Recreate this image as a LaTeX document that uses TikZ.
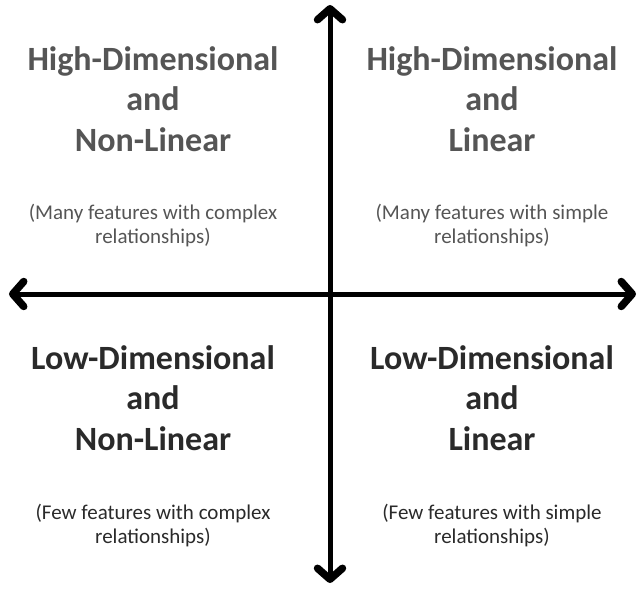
\documentclass[tikz,border=0pt]{standalone}
\usepackage{fontspec}
\setmainfont{Carlito}
\usepackage{tikz}
\usetikzlibrary{arrows.meta}
\definecolor{quadrantGray}{HTML}{555555}
\definecolor{quadrantInk}{HTML}{2A2A2A}
\definecolor{axisInk}{HTML}{000000}
\tikzset{
  heading/.style={
    align=center,
    inner sep=0pt,
    font=\fontsize{34}{40.5}\selectfont\bfseries
  },
  note/.style={
    align=center,
    inner sep=0pt,
    font=\fontsize{21}{24}\selectfont
  },
  axis/.style={
    {Straight Barb[length=11pt,width=25pt,line width=0pt 1.5,round]}-{Straight Barb[length=11pt,width=25pt,line width=0pt 1.5,round]},
    line width=5pt,
    draw=axisInk
  }
}

\begin{document}
\begin{tikzpicture}[x=1pt,y=-1pt]
  \useasboundingbox (0,0) rectangle (638,591);
  % axes
  \coordinate (north) at (330,5);
  \coordinate (south) at (330,583);
  \coordinate (west) at (9,294);
  \coordinate (east) at (636,294);
  \draw[axis] (west) -- (east);
  \draw[axis] (south) -- (north);
  % upper quadrants
  \node[heading,text=quadrantGray] (highNonLinear) at (153,99) {High-Dimensional\\and\\Non-Linear};
  \node[note,text=quadrantGray] (highNonLinearNote) at (153,226) {(Many features with complex\\relationships)};
  \node[heading,text=quadrantGray] (highLinear) at (492,99) {High-Dimensional\\and\\Linear};
  \node[note,text=quadrantGray] (highLinearNote) at (492,226) {(Many features with simple\\relationships)};
  % lower quadrants
  \node[heading,text=quadrantInk] (lowNonLinear) at (153,398) {Low-Dimensional\\and\\Non-Linear};
  \node[note,text=quadrantInk] (lowNonLinearNote) at (153,526) {(Few features with complex\\relationships)};
  \node[heading,text=quadrantInk] (lowLinear) at (492,398) {Low-Dimensional\\and\\Linear};
  \node[note,text=quadrantInk] (lowLinearNote) at (492,526) {(Few features with simple\\relationships)};
\end{tikzpicture}
\end{document}
